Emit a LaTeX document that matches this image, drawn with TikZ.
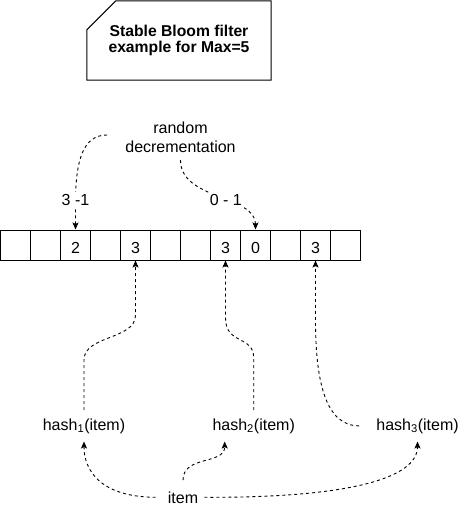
\documentclass[tikz,border=0pt]{standalone}
\usepackage{fontspec}
\setmainfont{Liberation Sans}
\usetikzlibrary{arrows.meta,calc}
\begin{document}
\begin{tikzpicture}[x=1bp,y=-1bp,
  cell/.style={draw, line width=1bp, minimum width=30bp, minimum height=30bp, inner sep=0pt,
    text height=16bp, text depth=0bp, font=\fontsize{16bp}{18.7bp}\selectfont},
  txt/.style={inner sep=0pt, font=\fontsize{16bp}{18.7bp}\selectfont},
  conn/.style={draw, line width=0.9bp, dash pattern=on 3bp off 3bp,
    -{Stealth[length=7bp,width=6bp,inset=1.5bp]}},
  lbl/.style={fill=white, inner sep=2bp, font=\fontsize{16bp}{18.7bp}\selectfont},
  card/.style={line width=1bp}
]
\useasboundingbox (0,0) rectangle (476,511);

% title card
\node[minimum width=184bp, minimum height=79bp, inner sep=0pt, align=center,
  font=\bfseries\fontsize{15.7bp}{16.4bp}\selectfont] (title) at (179,40.5)
  {Stable Bloom filter\\example for Max=5};
\draw[card] ($(title.north west)+(0,29)$) -- ($(title.north west)+(29,0)$)
  -- (title.north east) -- (title.south east) -- (title.south west) -- cycle;

% array cells
\node[cell] (c1)  at (15.5,245) {};
\node[cell] (c2)  at (45.5,245) {};
\node[cell] (c3)  at (75.5,245) {2};
\node[cell] (c4)  at (105.5,245) {};
\node[cell] (c5)  at (135.5,245) {3};
\node[cell] (c6)  at (165.5,245) {};
\node[cell] (c7)  at (195.5,245) {};
\node[cell] (c8)  at (225.5,245) {3};
\node[cell] (c9)  at (255.5,245) {0};
\node[cell] (c10) at (285.5,245) {};
\node[cell] (c11) at (315.5,245) {3};
\node[cell] (c12) at (345.5,245) {};

% text nodes
\node[txt, align=center] (rnd) at (180.5,137.5) {random\\decrementation};
\node[txt, inner ysep=8bp, anchor=base] (h1) at (84,430) {hash\textsubscript{1}(item)};
\node[txt, inner ysep=8bp, anchor=base] (h2) at (253.7,430) {hash\textsubscript{2}(item)};
\node[txt, inner ysep=8bp, anchor=base] (h3) at (417.5,430) {hash\textsubscript{3}(item)};
\node[txt, anchor=base] (item) at (183,503) {item};

% random decrementation connectors
\draw[conn] ($(rnd.west)+(-18,-2.5)$) .. controls (83,135) and (76,160) .. (75.5,200)
  node[lbl] (l1) {3 -1} -- (c3.north);
\draw[conn] ($(rnd.south)+(0,7.3)$) .. controls (180.5,200) and (255.5,195) .. (c9.north)
  node[lbl, pos=0.57] (l2) {0 - 1};

% hash to cells
\draw[conn] (h1.north) -- (84,360) .. controls (84,335) and (135.5,340) .. (135.5,315) -- (c5.south);
\draw[conn] (h2.north) -- (253.7,358) .. controls (253.7,335) and (225.5,345) .. (225.5,318) -- (c8.south);
\draw[conn] ($(h3.west)+(-17,0)$) .. controls (325,426) and (315.5,380) .. (315.5,320) -- (c11.south);

% item to hashes
\draw[conn] ($(item.west)+(-12,0)$) .. controls (100,497) and (84,470) .. (h1.south);
\draw[conn] ($(item.north)+(0,-11)$) .. controls (183,455) and (224.7,465) .. ($(h2.south)+(-29,0)$);
\draw[conn] ($(item.east)+(6,0)$) .. controls (350,498) and (417.5,478) .. (h3.south);
\end{tikzpicture}
\end{document}
